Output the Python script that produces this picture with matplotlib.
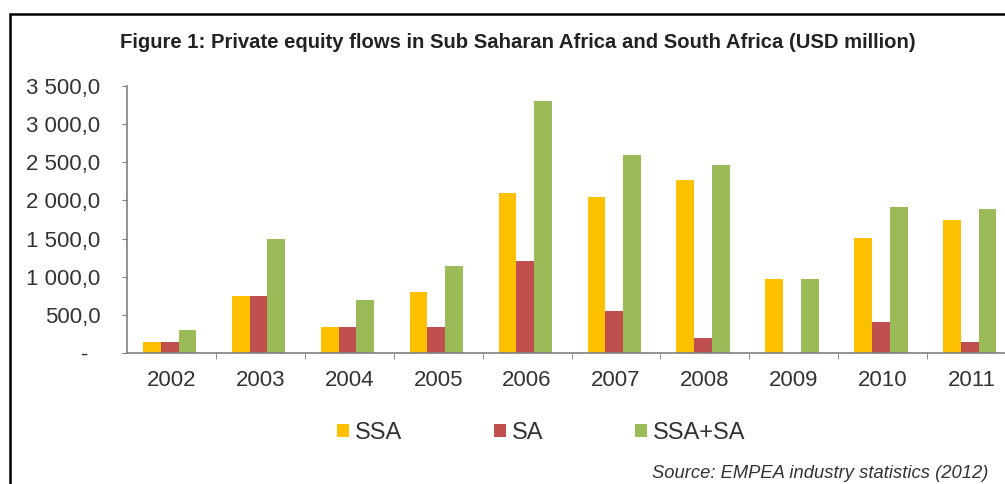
# private equity flows, SSA vs SA -- excel-style grouped bars
import numpy as np
import matplotlib
matplotlib.use("Agg")
import matplotlib.pyplot as plt
from matplotlib.ticker import FuncFormatter, FixedLocator
from matplotlib.patches import Rectangle

plt.rcParams["font.family"] = ["Liberation Sans", "DejaVu Sans"]

years = ["2002", "2003", "2004", "2005", "2006", "2007", "2008", "2009", "2010", "2011"]
ssa = [150, 750, 345, 800, 2100, 2050, 2270, 970, 1510, 1750]
sa = [150, 750, 345, 345, 1200, 550, 200, 0, 410, 140]
ssa_sa = [300, 1500, 690, 1145, 3300, 2600, 2470, 970, 1920, 1890]

series = [("SSA", ssa, "#FFC000"), ("SA", sa, "#C0504D"), ("SSA+SA", ssa_sa, "#9BBB59")]


def fmt_y(v, pos):
    # excel accounting style: zero shows as a dash
    if abs(v) < 1e-9:
        return "-  "
    s = f"{v:,.1f}".replace(",", " ").replace(".", ",")
    return s


fig = plt.figure(figsize=(10.05, 4.84), dpi=100)
W, H = 1005, 484

# axes spans past right edge like the cropped original
ax = fig.add_axes([127 / W, (H - 353) / H, (1016 - 127) / W, (353 - 86) / H])

x = np.arange(len(years)) + 0.5
bw = 0.2
for k, (name, vals, col) in enumerate(series):
    ax.bar(x + (k - 1) * bw - 0.02, vals, width=bw, color=col, label=name, linewidth=0)

ax.set_xlim(0, len(years))
ax.set_ylim(0, 3500)
ax.yaxis.set_major_locator(FixedLocator(np.arange(0, 3501, 500)))
ax.yaxis.set_major_formatter(FuncFormatter(fmt_y))

ax.set_xticks(x)
ax.set_xticklabels(years)
ax.set_xticks(np.arange(1, len(years)), minor=True)
ax.tick_params(axis="x", which="major", length=0, pad=12, labelsize=16, labelcolor="#333333")
ax.tick_params(axis="x", which="minor", length=4, color="#808080", direction="out")
ax.tick_params(axis="y", length=3.6, color="#808080", pad=15.5, labelsize=16, labelcolor="#333333")

for sp in ["top", "right"]:
    ax.spines[sp].set_visible(False)
for sp in ["left", "bottom"]:
    ax.spines[sp].set_color("#808080")
    ax.spines[sp].set_linewidth(1.2)

fig.text(518 / W, 1 - 42 / H, "Figure 1: Private equity flows in Sub Saharan Africa and South Africa (USD million)",
         ha="center", va="center", fontsize=14.6, fontweight="bold", color="#222222")

leg = fig.legend(loc="center", bbox_to_anchor=(541 / W, 1 - 433 / H), ncol=3, frameon=False,
                 fontsize=17, handlelength=0.5, handleheight=0.5, handletextpad=0.25,
                 columnspacing=3.9, borderaxespad=0)
for t in leg.get_texts():
    t.set_color("#333333")

fig.text(988 / W, 1 - 473 / H, "Source: EMPEA industry statistics (2012)",
         ha="right", va="center", fontsize=13.2, style="italic", color="#333333")

# black outer frame, cut at right and bottom
fig.patches.append(Rectangle((10 / W, -0.1), 1.2, 1.1 - 14 / H, transform=fig.transFigure,
                             fill=False, edgecolor="black", linewidth=1.8))

fig.savefig("out.png", dpi=100)
